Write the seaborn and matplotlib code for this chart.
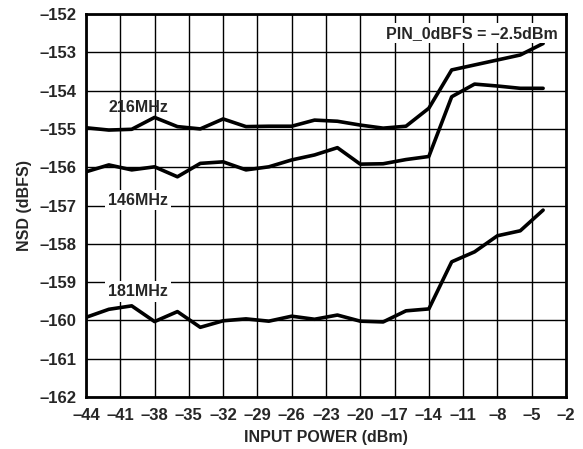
import matplotlib
matplotlib.use('Agg')
import matplotlib.pyplot as plt
import seaborn as sns
import pandas as pd
import numpy as np

# input power points (dBm)
input_power = [-44, -42, -40, -38, -36, -34, -32, -30, -28, -26, -24,
               -22, -20, -18, -16, -14, -12, -10, -8, -6, -4]

nsd_216 = [-154.97, -155.03, -155.01, -154.70, -154.94, -155.00, -154.74,
           -154.94, -154.93, -154.93, -154.77, -154.80, -154.90, -154.98,
           -154.93, -154.46, -153.46, -153.33, -153.20, -153.07, -152.77]
nsd_146 = [-156.12, -155.94, -156.07, -155.99, -156.25, -155.90, -155.86,
           -156.07, -155.99, -155.81, -155.68, -155.49, -155.92, -155.91,
           -155.80, -155.72, -154.16, -153.83, -153.88, -153.94, -153.94]
nsd_181 = [-159.92, -159.71, -159.62, -160.03, -159.77, -160.18, -160.01,
           -159.96, -160.02, -159.89, -159.97, -159.86, -160.02, -160.04,
           -159.75, -159.70, -158.47, -158.21, -157.79, -157.66, -157.12]

x_ticks = list(range(-44, -1, 3))
y_ticks = list(range(-162, -151, 1))

df = pd.DataFrame({
    'P': input_power * 3,
    'NSD': nsd_216 + nsd_146 + nsd_181,
    'freq': ['216MHz'] * 21 + ['146MHz'] * 21 + ['181MHz'] * 21,
})

sns.set_style('white')
plt.rcParams['font.family'] = ['Liberation Sans', 'DejaVu Sans']
plt.rcParams['font.weight'] = 'bold'

fig = plt.figure(figsize=(5.83, 4.49), dpi=100)
ax = fig.add_axes([0.1475, 0.1158, 0.8233, 0.853])

sns.lineplot(data=df, x='P', y='NSD', units='freq', estimator=None,
             color='black', linewidth=2.6, ax=ax, legend=False)

ax.set_xlim(-44, -2)
ax.set_ylim(-162, -152)
ax.set_xticks(x_ticks)
ax.set_yticks(y_ticks)
ax.set_xticklabels([str(t).replace('-', '\u2013') for t in x_ticks], fontsize=12, fontweight='bold')
ax.set_yticklabels([str(t).replace('-', '\u2013') for t in y_ticks], fontsize=12, fontweight='bold')
ax.tick_params(axis='x', length=0, pad=8)
ax.tick_params(axis='y', length=0, pad=7)
ax.grid(True, color='black', linewidth=1.0)
for s in ax.spines.values():
    s.set_color('black')
    s.set_linewidth(2)

ax.set_xlabel('INPUT POWER (dBm)', fontsize=11.5, fontweight='bold', labelpad=5)
ax.set_ylabel('NSD (dBFS)', fontsize=11.5, fontweight='bold', labelpad=5)

box = dict(facecolor='white', edgecolor='none', pad=2)
ax.text(-39.45, -154.43, '216MHz', fontsize=11.5, fontweight='bold', ha='center', va='center')
ax.text(-39.45, -156.86, '146MHz', fontsize=11.5, fontweight='bold', ha='center', va='center', bbox=box)
ax.text(-39.45, -159.25, '181MHz', fontsize=11.5, fontweight='bold', ha='center', va='center', bbox=box)
ax.text(-2.75, -152.5, 'PIN_0dBFS = \u20132.5dBm', fontsize=11.5, fontweight='bold',
        ha='right', va='center', bbox=box)

fig.savefig('out.png', dpi=100)
